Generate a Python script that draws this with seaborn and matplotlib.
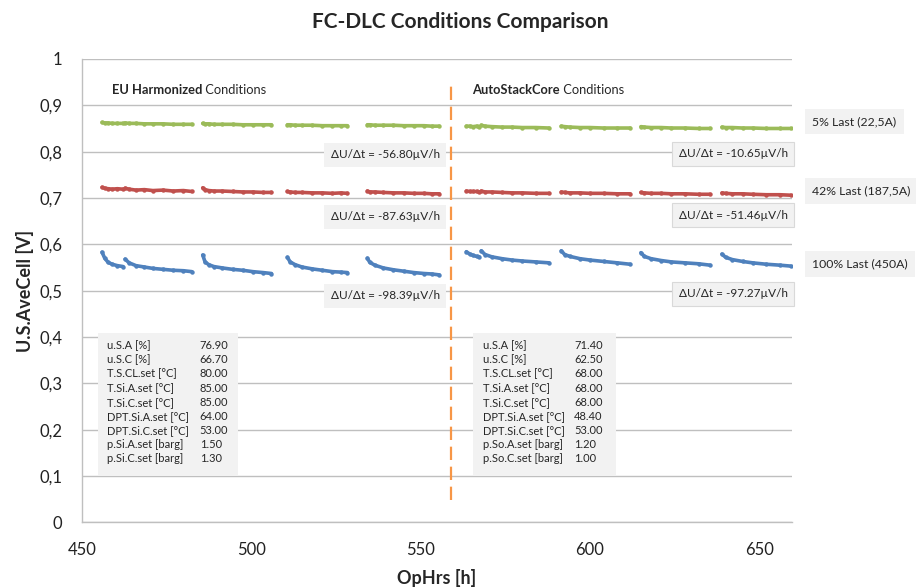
import numpy as np
import pandas as pd
import matplotlib
matplotlib.use("Agg")
import matplotlib.pyplot as plt
import seaborn as sns
from matplotlib.patches import Rectangle
from matplotlib.ticker import FuncFormatter

# ---------------- data ----------------
segment_hours = [
    [456.0, 456.8, 457.8, 459.0, 460.5, 462.2],
    [462.8, 464.0, 466.0, 468.5, 471.0, 474.0, 477.0, 480.0, 482.5],
    [485.7, 486.4, 487.5, 489.0, 491.5, 494.5, 497.5, 500.5, 503.5, 506.0],
    [510.7, 511.5, 513.0, 515.0, 518.0, 521.0, 524.0, 526.5, 528.4],
    [534.3, 535.0, 536.5, 539.0, 542.0, 545.0, 548.0, 551.0, 553.3, 555.5],
    [563.5, 564.5, 565.5, 566.5, 567.3],
    [567.9, 569.0, 571.0, 574.0, 577.0, 580.0, 584.0, 587.9],
    [591.5, 592.5, 594.0, 597.0, 600.0, 604.0, 608.0, 611.8],
    [615.0, 616.0, 618.0, 621.0, 624.0, 628.0, 632.0, 635.4],
    [638.9, 640.0, 642.0, 645.0, 648.0, 652.0, 656.0, 659.2],
]
volt_5pct = [
    [0.863, 0.862, 0.862, 0.861, 0.861, 0.861],
    [0.862, 0.861, 0.861, 0.860, 0.860, 0.860, 0.859, 0.859, 0.859],
    [0.861, 0.860, 0.860, 0.859, 0.859, 0.859, 0.858, 0.858, 0.858, 0.858],
    [0.858, 0.858, 0.857, 0.857, 0.857, 0.856, 0.856, 0.856, 0.856],
    [0.858, 0.858, 0.857, 0.857, 0.857, 0.856, 0.856, 0.856, 0.855, 0.855],
    [0.855, 0.855, 0.854, 0.855, 0.854],
    [0.857, 0.855, 0.854, 0.853, 0.853, 0.852, 0.852, 0.851],
    [0.855, 0.854, 0.853, 0.852, 0.852, 0.851, 0.851, 0.851],
    [0.854, 0.853, 0.852, 0.852, 0.851, 0.851, 0.850, 0.850],
    [0.853, 0.852, 0.852, 0.851, 0.851, 0.850, 0.850, 0.850],
]
volt_42pct = [
    [0.723, 0.721, 0.720, 0.719, 0.720, 0.719],
    [0.721, 0.719, 0.717, 0.718, 0.716, 0.717, 0.715, 0.716, 0.714],
    [0.722, 0.718, 0.716, 0.715, 0.715, 0.714, 0.713, 0.713, 0.712, 0.712],
    [0.714, 0.713, 0.712, 0.712, 0.711, 0.711, 0.710, 0.711, 0.710],
    [0.715, 0.713, 0.713, 0.712, 0.711, 0.711, 0.710, 0.710, 0.709, 0.709],
    [0.715, 0.714, 0.714, 0.714, 0.713],
    [0.715, 0.713, 0.713, 0.712, 0.711, 0.711, 0.710, 0.710],
    [0.713, 0.712, 0.711, 0.711, 0.710, 0.710, 0.709, 0.709],
    [0.712, 0.711, 0.710, 0.710, 0.709, 0.709, 0.708, 0.708],
    [0.711, 0.710, 0.709, 0.709, 0.708, 0.707, 0.707, 0.706],
]
volt_100pct = [
    [0.583, 0.570, 0.561, 0.557, 0.554, 0.552],
    [0.568, 0.560, 0.554, 0.551, 0.548, 0.546, 0.544, 0.543, 0.541],
    [0.577, 0.562, 0.556, 0.552, 0.549, 0.546, 0.544, 0.541, 0.539, 0.537],
    [0.572, 0.562, 0.556, 0.551, 0.547, 0.544, 0.541, 0.540, 0.539],
    [0.570, 0.561, 0.555, 0.549, 0.545, 0.542, 0.539, 0.537, 0.536, 0.534],
    [0.584, 0.579, 0.576, 0.574, 0.573],
    [0.586, 0.578, 0.573, 0.569, 0.566, 0.564, 0.562, 0.560],
    [0.586, 0.578, 0.574, 0.569, 0.566, 0.563, 0.560, 0.557],
    [0.582, 0.574, 0.569, 0.565, 0.562, 0.560, 0.558, 0.555],
    [0.579, 0.572, 0.567, 0.563, 0.560, 0.557, 0.555, 0.553],
]
load_labels = ["5% Last (22,5A)", "42% Last (187,5A)", "100% Last (450A)"]
load_colors = ["#9BBB59", "#C0504D", "#4F81BD"]
slope_eu = ["ΔU/Δt = -56.80µV/h", "ΔU/Δt = -87.63µV/h", "ΔU/Δt = -98.39µV/h"]
slope_asc = ["ΔU/Δt = -10.65µV/h", "ΔU/Δt = -51.46µV/h", "ΔU/Δt = -97.27µV/h"]
param_names_eu = ["u.S.A [%]", "u.S.C [%]", "T.S.CL.set [°C]", "T.Si.A.set [°C]",
                  "T.Si.C.set [°C]", "DPT.Si.A.set [°C]", "DPT.Si.C.set [°C]",
                  "p.Si.A.set [barg]", "p.Si.C.set [barg]"]
param_values_eu = ["76.90", "66.70", "80.00", "85.00", "85.00", "64.00", "53.00", "1.50", "1.30"]
param_names_asc = ["u.S.A [%]", "u.S.C [%]", "T.S.CL.set [°C]", "T.Si.A.set [°C]",
                   "T.Si.C.set [°C]", "DPT.Si.A.set [°C]", "DPT.Si.C.set [°C]",
                   "p.So.A.set [barg]", "p.So.C.set [barg]"]
param_values_asc = ["71.40", "62.50", "68.00", "68.00", "68.00", "48.40", "53.00", "1.20", "1.00"]
x_ticks = [450, 500, 550, 600, 650]
y_ticks = [0.0, 0.1, 0.2, 0.3, 0.4, 0.5, 0.6, 0.7, 0.8, 0.9, 1.0]
switch_hour = 559

# ---------------- long table ----------------
rows = []
for load, series in zip(load_labels, [volt_5pct, volt_42pct, volt_100pct]):
    for seg_id, (hrs, vals) in enumerate(zip(segment_hours, series)):
        for h, v in zip(hrs, vals):
            rows.append({"OpHrs": h, "Voltage": v, "Load": load, "Segment": seg_id})
df = pd.DataFrame(rows)

# ---------------- figure ----------------
sns.set_theme(style="white")
plt.rcParams["font.family"] = ["Lato", "DejaVu Sans"]
fig = plt.figure(figsize=(9.16, 5.88), dpi=100)
ax = fig.add_axes([0.0892, 0.1117, 0.7751, 0.788])

ax.yaxis.grid(True, color="#BFBFBF", linewidth=1.0, zorder=0)
ax.set_axisbelow(True)

sns.lineplot(data=df, x="OpHrs", y="Voltage", hue="Load", units="Segment",
             estimator=None, palette=dict(zip(load_labels, load_colors)),
             linewidth=2.6, marker="o", markersize=3.2, markeredgewidth=0,
             legend=False, ax=ax, zorder=3)

ax.set_xlim(450, 659.5)
ax.set_ylim(0, 1)
ax.set_xticks(x_ticks)
ax.set_yticks(y_ticks)
ax.yaxis.set_major_formatter(FuncFormatter(lambda v, p: ("%g" % round(v, 1)).replace(".", ",")))
ax.tick_params(axis="both", which="major", labelsize=12, colors="#222222",
               length=5, width=1, direction="out")
ax.tick_params(axis="x", pad=9, color="#BFBFBF")
ax.tick_params(axis="y", pad=9, color="#BFBFBF")
for s in ["top", "right"]:
    ax.spines[s].set_visible(False)
for s in ["left", "bottom"]:
    ax.spines[s].set_color("#BFBFBF")
    ax.spines[s].set_linewidth(1.0)

ax.set_xlabel("OpHrs [h]", fontsize=13, fontweight="bold", labelpad=8)
ax.set_ylabel("U.S.AveCell [V]", fontsize=13, fontweight="bold", labelpad=4)
fig.text(0.502, 0.963, "FC-DLC Conditions Comparison", ha="center", va="center",
         fontsize=15, fontweight="bold")

# condition switch line
ax.plot([switch_hour, switch_hour], [0.048, 0.955], color="#F79646",
        linewidth=1.6, dashes=(6, 3), zorder=4)

# condition headers
for x0, bold in [(458.8, "EU Harmonized"), (565.3, "AutoStackCore")]:
    t = ax.text(x0, 0.932, bold, fontsize=9.3, fontweight="bold", va="center", ha="left")
    ax.annotate(" Conditions", xy=(1, 0.5), xycoords=t, fontsize=9.3,
                va="center", ha="left")

# slope boxes
for txt, y in zip(slope_eu, [0.793, 0.659, 0.489]):
    ax.text(539.6, y, txt, fontsize=8.5, ha="center", va="center", zorder=5,
            bbox=dict(boxstyle="square,pad=0.55", fc="#F2F2F2", ec="none"))
for txt, y in zip(slope_asc, [0.795, 0.663, 0.493]):
    ax.text(642.2, y, txt, fontsize=8.5, ha="center", va="center", zorder=5,
            bbox=dict(boxstyle="square,pad=0.55", fc="#F2F2F2", ec="#D9D9D9", lw=0.8))

# load labels
for txt, y in zip(load_labels, [0.865, 0.715, 0.557]):
    ax.text(665.6, y, txt, fontsize=8.8, ha="left", va="center",
            clip_on=False, bbox=dict(boxstyle="square,pad=0.6", fc="#F2F2F2", ec="none"))

# parameter boxes
for (bx, bw, lx, vx, names, values) in [
        (454.8, 41.3, 457.5, 484.8, param_names_eu, param_values_eu),
        (565.5, 42.1, 568.3, 595.3, param_names_asc, param_values_asc)]:
    ax.add_patch(Rectangle((bx, 0.102), bw, 0.306, fc="#F2F2F2", ec="none", zorder=2))
    for i, (n, v) in enumerate(zip(names, values)):
        yy = 0.381 - i * 0.0304
        ax.text(lx, yy, n, fontsize=8, ha="left", va="center", zorder=3)
        ax.text(vx, yy, v, fontsize=8, ha="left", va="center", zorder=3)

fig.savefig("out.png", dpi=100)
